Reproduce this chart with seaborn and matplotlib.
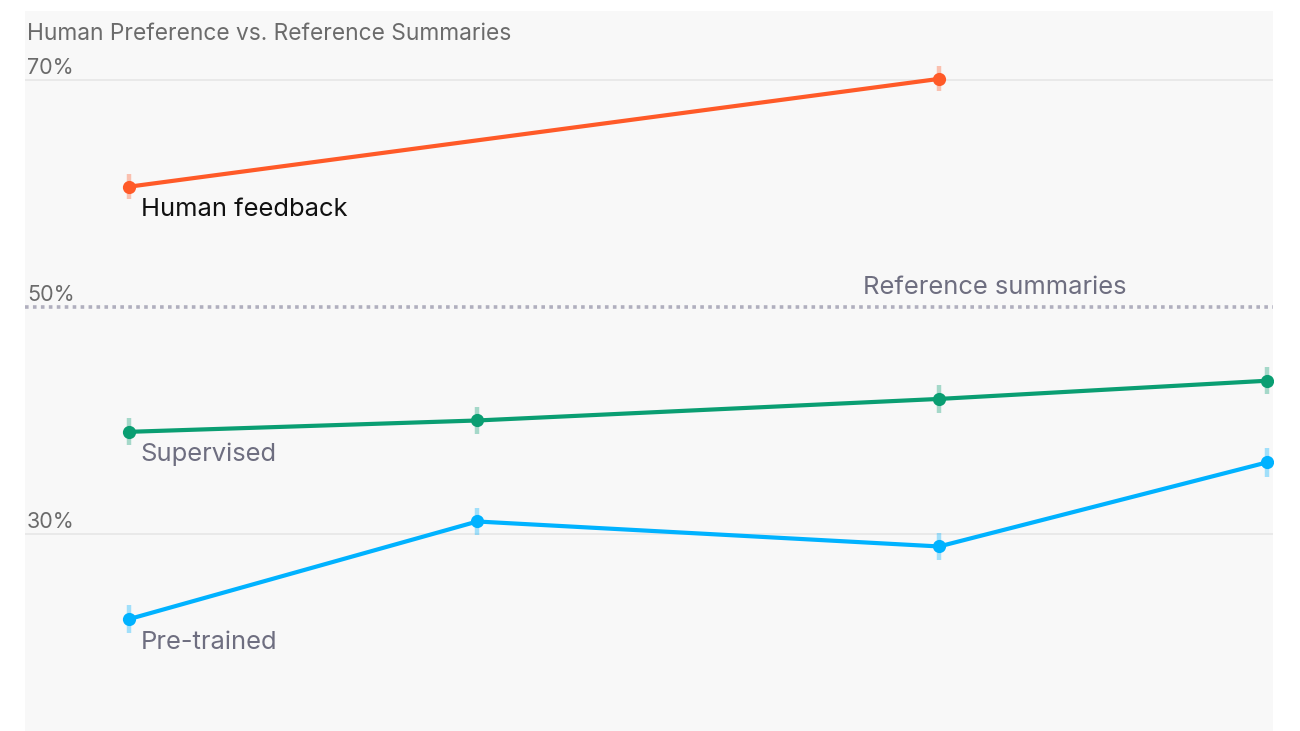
import numpy as np
import pandas as pd
import seaborn as sns
import matplotlib.pyplot as plt
from matplotlib import transforms

# ---- data ----
model_sizes = [1.3, 2.63, 6.7, 13.0]  # model size (log x)
human_feedback = [60.6, None, 70.1, None]
human_feedback_err = [1.1, None, 1.1, None]
supervised = [39.0, 40.0, 41.9, 43.5]
supervised_err = [1.2, 1.2, 1.2, 1.2]
pretrained = [22.5, 31.1, 28.9, 36.3]
pretrained_err = [1.2, 1.2, 1.2, 1.3]
reference_level = 50
ytick_values = [30, 50, 70]
ytick_labels = ["30%", "50%", "70%"]
title = "Human Preference vs. Reference Summaries"

series = [
    ("Human feedback", human_feedback, human_feedback_err, "#ff5a28", "#111111"),
    ("Supervised", supervised, supervised_err, "#0a9e72", "#6e6e80"),
    ("Pre-trained", pretrained, pretrained_err, "#00b2ff", "#6e6e80"),
]

rows = []
for name, vals, errs, _, _ in series:
    for x, v, e in zip(model_sizes, vals, errs):
        if v is not None:
            rows.append({"size": x, "value": v, "err": e, "series": name})
df = pd.DataFrame(rows)

sns.set_theme(style="white")
plt.rcParams["font.family"] = ["Inter", "DejaVu Sans"]

fig = plt.figure(figsize=(13, 7.31), dpi=100, facecolor="white")
ax = fig.add_axes([25 / 1300, 0, 1248 / 1300, 720 / 731])
ax.set_facecolor("#f8f8f8")
ax.set_xscale("log")
ax.set_xlim(1.053, 13.17)
ax.set_ylim(12.64, 76.08)

for s in ax.spines.values():
    s.set_visible(False)
ax.set_xticks([])
ax.set_yticks([])
ax.minorticks_off()

# gridlines
for v in ytick_values:
    if v == reference_level:
        ax.axhline(v, color="#b0afbe", lw=2.6, ls=(0, (1, 1.2)), zorder=1)
    else:
        ax.axhline(v, color="#e6e6e6", lw=1.2, zorder=1)

trans_lbl = transforms.blended_transform_factory(ax.transAxes, ax.transData)
for v, lab in zip(ytick_values, ytick_labels):
    ax.annotate(lab, xy=(2 / 1248, v), xycoords=trans_lbl, xytext=(0, 4),
                textcoords="offset points", fontsize=15.5, color="#6b6b6b",
                ha="left", va="baseline")

ax.text(2 / 1248, 1 - 29 / 720, title, transform=ax.transAxes, fontsize=16.4,
        color="#6b6b6b", ha="left", va="baseline")

# error bars
for name, vals, errs, col, _ in series:
    d = df[df["series"] == name]
    ax.vlines(d["size"], d["value"] - d["err"], d["value"] + d["err"],
              color=col, alpha=0.35, lw=3.2, zorder=2)

palette = {name: col for name, _, _, col, _ in series}
sns.lineplot(data=df, x="size", y="value", hue="series", palette=palette,
             marker="o", markersize=9.5, markeredgewidth=0, linewidth=3,
             legend=False, ax=ax, zorder=3)
ax.set_xlabel("")
ax.set_ylabel("")

# series labels
for name, vals, errs, col, tcol in series:
    ax.annotate(name, xy=(model_sizes[0], vals[0]), xytext=(8.5, -16.5),
                textcoords="offset points", fontsize=18.4, color=tcol,
                ha="left", va="center")

ax.text((863 - 25) / 1248, reference_level + 1.76, "Reference summaries",
        transform=trans_lbl, fontsize=18.4, color="#6e6e80", ha="left", va="center")

fig.savefig("out.png", dpi=100, facecolor="white")
